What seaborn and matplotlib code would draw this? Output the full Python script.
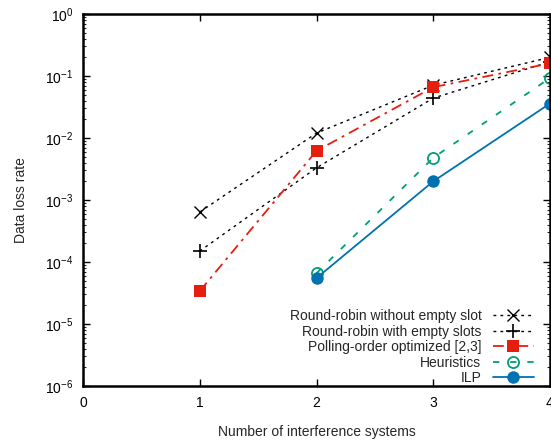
import matplotlib
matplotlib.use("Agg")
import matplotlib.pyplot as plt
import seaborn as sns
import numpy as np
import pandas as pd
from matplotlib.ticker import LogLocator, FixedLocator, NullFormatter

x_vals = [1, 2, 3, 4]
rr_without = [6.4e-4, 1.2e-2, 7.1e-2, 0.20]
rr_with = [1.5e-4, 3.3e-3, 4.4e-2, 0.17]
polling = [3.4e-5, 6.2e-3, 6.6e-2, 0.16]
heur_x = [2, 3, 4]
heuristics = [6.6e-5, 4.8e-3, 0.093]
ilp_x = [2, 3, 4]
ilp = [5.5e-5, 2.0e-3, 0.036]

labels = ["Round-robin without empty slot", "Round-robin with empty slots",
          "Polling-order optimized [2,3]", "Heuristics", "ILP"]
x_ticks = [0, 1, 2, 3, 4]

sns.set_style("ticks")
plt.rcParams['font.family'] = ['Liberation Sans', 'DejaVu Sans']
plt.rcParams['mathtext.fontset'] = 'custom'
plt.rcParams['mathtext.rm'] = 'Liberation Sans'
plt.rcParams['mathtext.it'] = 'Liberation Sans'

fig = plt.figure(figsize=(5.51, 4.44), dpi=100)
ax = fig.add_axes([83/551, 1-386/444, (550-83)/551, (386-14)/444])

sns.lineplot(x=x_vals, y=rr_without, ax=ax, color="black", lw=1,
             marker="x", markersize=8, markeredgewidth=1.0,
             markeredgecolor="black", label=labels[0])
sns.lineplot(x=x_vals, y=rr_with, ax=ax, color="black", lw=1,
             marker="+", markersize=10, markeredgewidth=1.2,
             markeredgecolor="black", label=labels[1])
sns.lineplot(x=x_vals, y=polling, ax=ax, color="#e51e10", lw=1.3,
             marker="s", markersize=9, markeredgewidth=0,
             label=labels[2])
sns.lineplot(x=heur_x, y=heuristics, ax=ax, color="#009e73", lw=1.3,
             marker="o", markersize=8, markerfacecolor="none",
             markeredgecolor="#009e73", markeredgewidth=1.3,
             label=labels[3])
sns.lineplot(x=ilp_x, y=ilp, ax=ax, color="#0072b2", lw=1.3,
             marker="o", markersize=9, markeredgewidth=0,
             label=labels[4])

dash_styles = [(0, (2, 3)), (0, (2, 3)), (0, (6, 3, 1.5, 3)), (0, (3.5, 6)), "-"]
for line, ds in zip(ax.get_lines(), dash_styles):
    line.set_linestyle(ds)

ax.set_yscale("log")
ax.set_xlim(0, 4)
ax.set_ylim(1e-6, 1)
ax.xaxis.set_major_locator(FixedLocator(x_ticks))
ax.set_xticklabels([str(t) for t in x_ticks])
ax.yaxis.set_major_locator(LogLocator(base=10, numticks=10))
ax.yaxis.set_minor_locator(LogLocator(base=10, subs=np.arange(2, 10), numticks=20))
ax.yaxis.set_minor_formatter(NullFormatter())

ax.tick_params(axis="both", which="major", direction="in", length=5, width=1,
               top=True, right=True, labelsize=10, pad=7, colors="black")
ax.tick_params(axis="y", which="minor", direction="in", length=2.5, width=0.8,
               right=True, left=True)
for s in ax.spines.values():
    s.set_linewidth(1.8)
    s.set_color("black")

ax.set_xlabel("Number of interference systems", fontsize=10, labelpad=11)
ax.set_ylabel("Data loss rate", fontsize=10, labelpad=12)

leg = ax.legend(loc="lower right", bbox_to_anchor=(0.978, -0.012), frameon=False,
                markerfirst=False, fontsize=10, handlelength=3.0,
                handletextpad=0.8, labelspacing=0.1, borderaxespad=0.0)
leg._legend_box.align = "right"

fig.savefig("out.png", dpi=100)
